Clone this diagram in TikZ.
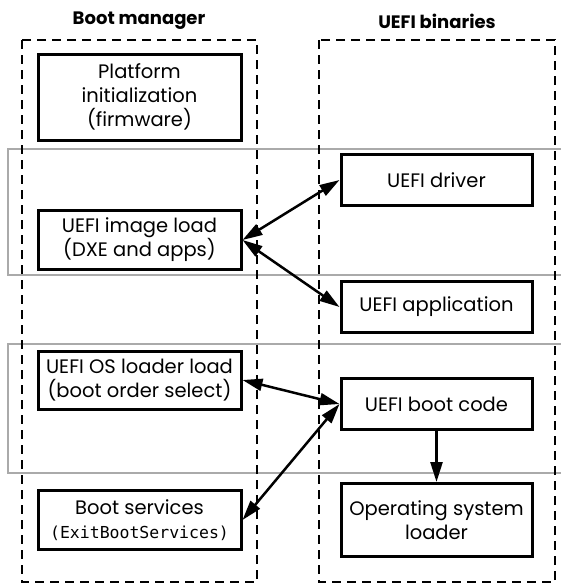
\documentclass[tikz,border=0pt]{standalone}
\usepackage{fontspec}
\setmainfont{Poppins}
\setmonofont{DejaVu Sans Mono}
\usetikzlibrary{positioning,arrows.meta}
\definecolor{bandcol}{RGB}{170,170,170}
\begin{document}
\begin{tikzpicture}[
  x=1pt, y=-1pt,
  step box/.style={rectangle,draw,line width=3pt,minimum width=203pt,
                   inner sep=0pt,align=center,
                   font=\fontsize{19.5}{24}\selectfont},
  lane/.style ={draw,line width=2.8pt,dash pattern=on 9pt off 6pt},
  band/.style ={draw=bandcol,line width=2.2pt},
  title/.style={font=\fontsize{18}{22}\selectfont\bfseries},
  link/.style ={line width=2.5pt,<->},
  flow/.style ={line width=2.5pt,->},
  >={Triangle[length=20pt,width=12pt]}
]
\useasboundingbox (0,0) rectangle (560,584);
% grey phase bands
\draw[band] (570,149) -| (8,275) -- (570,275);
\draw[band] (570,344) -| (8,473) -- (570,473);
% lanes
\draw[lane] (22,40) rectangle (257,582);
\draw[lane] (319,40) rectangle (555,582);
\node[title] (tmgr) at (139,21) {Boot manager};
\node[title] (tbin) at (437,21) {UEFI binaries};
% boot manager side
\node[step box,minimum height=86pt] (plat) at (139.5,97)  {Platform\\initialization\\(firmware)};
\node[step box,minimum height=59pt] (load) at (139.5,240) {UEFI image load\\(DXE and apps)};
\node[step box,minimum height=58pt] (osl)  at (139.5,380) {UEFI OS loader load\\(boot order select)};
\node[step box,minimum height=59pt] (bsv)  at (139.5,520) {Boot services\\{\fontsize{16.5}{20}\selectfont\ttfamily(ExitBootServices)}};
% binaries side
\node[step box,minimum width=191pt,minimum height=51pt] (drv)  at (436.5,180) {UEFI driver};
\node[step box,minimum width=191pt,minimum height=51pt] (app)  at (436.5,307) {UEFI application};
\node[step box,minimum width=191pt,minimum height=51pt] (boot) at (436.5,404) {UEFI boot code};
\node[step box,minimum width=191pt,minimum height=73pt] (osld) at (436.5,520) {Operating system\\loader};
% connectors
\foreach \s/\d in {load/drv,load/app,osl/boot,bsv/boot}
  \draw[link] (\s.east) -- (\d.west);
\draw[flow] (boot) -- (osld);
\end{tikzpicture}
\end{document}
